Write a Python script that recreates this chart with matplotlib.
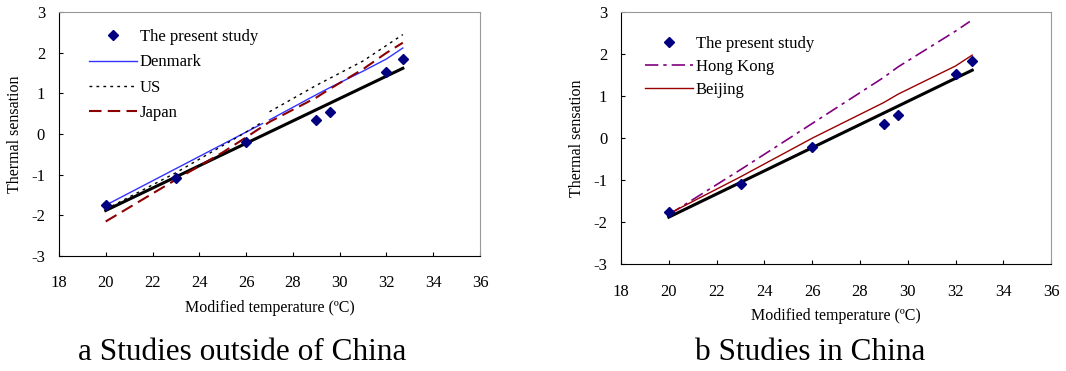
import numpy as np
import matplotlib
matplotlib.use("Agg")
import matplotlib.pyplot as plt

plt.rcParams['font.family'] = ['Liberation Serif', 'DejaVu Serif']
plt.rcParams['axes.unicode_minus'] = False

# present study data
temp = [20, 23, 26, 29, 29.6, 32, 32.7]
tsv = [-1.75, -1.08, -0.2, 0.35, 0.55, 1.52, 1.85]
fit_x = [20, 32.7]
fit_y = [-1.88, 1.62]

# other studies (a) - gap around 26.8
den_x = [20, 23, 26, 26.7, np.nan, 27.0, 29, 29.6, 31, 32, 32.7]
den_y = [-1.75, -0.85, 0.05, 0.26, np.nan, 0.35, 0.97, 1.15, 1.55, 1.85, 2.12]
us_x = [20, 23, 26, 26.7, np.nan, 27.0, 29, 31, 32.7]
us_y = [-1.85, -0.95, 0.05, 0.3, np.nan, 0.55, 1.2, 1.8, 2.45]
jp_x = [20, 23, 25, 26, 27, 29, 29.6, 31, 32, 32.7]
jp_y = [-2.15, -1.12, -0.45, -0.08, 0.3, 0.9, 1.12, 1.6, 2.0, 2.25]

# studies in China (b)
hk_x = [20, 23, 26, 29, 29.6, 32, 32.6]
hk_y = [-1.82, -0.75, 0.35, 1.45, 1.7, 2.55, 2.78]
bj_x = [20, 23, 26, 29, 29.6, 32, 32.7]
bj_y = [-1.8, -0.92, 0.0, 0.85, 1.05, 1.72, 1.98]

xticks = [18, 20, 22, 24, 26, 28, 30, 32, 34, 36]
yticks = [-3, -2, -1, 0, 1, 2, 3]

fig = plt.figure(figsize=(10.66, 3.71), dpi=100)
ax1 = fig.add_axes([0.0553, 0.31, 0.395, 0.657])
ax2 = fig.add_axes([0.5826, 0.288, 0.4034, 0.679])

for ax in (ax1, ax2):
    ax.plot(fit_x, fit_y, color='black', lw=2.2)
    ax.set_xlim(18, 36)
    ax.set_ylim(-3, 3)
    ax.set_xticks(xticks)
    ax.set_yticks(yticks)
    ax.tick_params(labelsize=12, direction='in', length=3)
    ax.tick_params(axis='x', pad=14)
    ax.tick_params(axis='y', pad=10)
    ax.set_xlabel('Modified temperature (ºC)', fontsize=11.5, labelpad=6)
    ax.set_ylabel('Thermal sensation', fontsize=11.5, labelpad=6)
    for s in ('top', 'right'):
        ax.spines[s].set_color('#999999')

ax1.plot(temp, tsv, 'D', color='#000080', ms=5.5, label='The present study', zorder=5)
ax1.plot(den_x, den_y, color='#3333ff', lw=1, label='Denmark')
ax1.plot(us_x, us_y, color='black', lw=1, ls=(0, (2, 3)), label='US')
ax1.plot(jp_x, jp_y, color='#8b0000', lw=1.5, ls=(0, (6, 3)), label='Japan')
ax1.legend(loc='upper left', frameon=False, fontsize=12, bbox_to_anchor=(0.071, 0.93),
           borderaxespad=0, borderpad=0,
           handlelength=2.9, labelspacing=0.55, handletextpad=0.15)

ax2.plot(temp, tsv, 'D', color='#000080', ms=5.5, label='The present study', zorder=5)
ax2.plot(hk_x, hk_y, color='#800080', lw=1.2, ls=(0, (8, 3, 2, 3)), label='Hong Kong')
ax2.plot(bj_x, bj_y, color='#990000', lw=1, label='Beijing')
ax2.legend(loc='upper left', frameon=False, fontsize=12, bbox_to_anchor=(0.056, 0.905),
           borderaxespad=0, borderpad=0,
           handlelength=2.9, labelspacing=0.4, handletextpad=0.15)

fig.text(0.227, 0.03, 'a Studies outside of China', fontsize=22.5, ha='center')
fig.text(0.76, 0.03, 'b Studies in China', fontsize=22.5, ha='center')

fig.savefig('out.png', dpi=100)
